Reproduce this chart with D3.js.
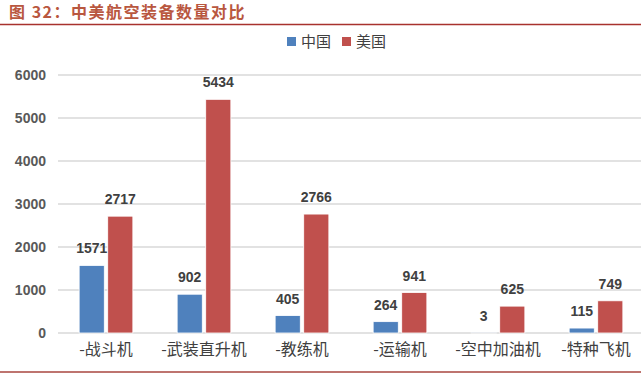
<!DOCTYPE html>
<html>
<head>
<meta charset="utf-8">
<script src="https://cdn.jsdelivr.net/npm/d3@7"></script>
<style>
  body { margin: 0; background: #fff; }
  svg { display: block; font-family: "Noto Sans CJK SC", "Noto Sans", sans-serif; }
</style>
</head>
<body>
<svg id="chart" width="641" height="374"></svg>
<script>
// data
var categories = ["-战斗机", "-武装直升机", "-教练机", "-运输机", "-空中加油机", "-特种飞机"];
var seriesNames = ["中国", "美国"];
var china = [1571, 902, 405, 264, 3, 115];
var usa = [2717, 5434, 2766, 941, 625, 749];
var yTicks = [0, 1000, 2000, 3000, 4000, 5000, 6000];
var colors = ["#4f81bd", "#c0504d"];

var svg = d3.select("#chart");

// title + rules
svg.append("text")
  .attr("x", 9).attr("y", 18)
  .attr("font-size", 16).attr("font-weight", "bold")
  .attr("letter-spacing", 1.5)
  .attr("fill", "#b9573f")
  .text("图 32：中美航空装备数量对比");
svg.append("line")
  .attr("x1", 0).attr("x2", 641).attr("y1", 24.5).attr("y2", 24.5)
  .attr("stroke", "#a8322d").attr("stroke-width", 1.5);
svg.append("line")
  .attr("x1", 0).attr("x2", 641).attr("y1", 372).attr("y2", 372)
  .attr("stroke", "#a8463f").attr("stroke-width", 1.5);

var x0 = d3.scaleBand().domain(categories).range([57, 645]);
var x1 = d3.scaleBand().domain([0, 1]).range([-28, 28]).paddingInner(0.12).paddingOuter(0.04);
var y = d3.scaleLinear().domain([0, 6000]).range([333, 75]);

// grid
svg.append("g").selectAll("line")
  .data(yTicks)
  .enter().append("line")
  .attr("x1", 58).attr("x2", 641)
  .attr("y1", function(d) { return y(d); })
  .attr("y2", function(d) { return y(d); })
  .attr("stroke", "#d9d9d9").attr("stroke-width", 1.5);

// y axis labels
var yAxis = d3.axisLeft(y).tickValues(yTicks).tickFormat(d3.format("d")).tickSize(0).tickPadding(0);
var yg = svg.append("g").attr("transform", "translate(46,0)").call(yAxis);
yg.select(".domain").remove();
yg.selectAll("text")
  .attr("font-size", 14).attr("font-weight", "bold")
  .attr("font-family", "'Liberation Sans', Arial, sans-serif")
  .attr("fill", "#595959");

// x axis labels
var xAxis = d3.axisBottom(x0).tickSize(0).tickPadding(0);
var xg = svg.append("g").attr("transform", "translate(0,344)").call(xAxis);
xg.select(".domain").remove();
xg.selectAll("text")
  .attr("font-size", 16)
  .attr("font-family", "'Noto Sans CJK SC', sans-serif")
  .attr("fill", "#404040");

// bars
var rows = categories.map(function(c, i) { return { cat: c, vals: [china[i], usa[i]] }; });
var groups = svg.append("g").selectAll("g")
  .data(rows)
  .enter().append("g")
  .attr("transform", function(d) { return "translate(" + (x0(d.cat) + x0.bandwidth() / 2) + ",0)"; });

groups.selectAll("rect")
  .data(function(d) { return d.vals; })
  .enter().append("rect")
  .attr("x", function(d, i) { return x1(i); })
  .attr("width", x1.bandwidth())
  .attr("y", function(d) { return y(d); })
  .attr("height", function(d) { return y(0) - y(d); })
  .attr("fill", function(d, i) { return colors[i]; })
  .attr("stroke", "#fff").attr("stroke-width", 0.8);

groups.selectAll("text")
  .data(function(d) { return d.vals; })
  .enter().append("text")
  .attr("x", function(d, i) { return x1(i) + x1.bandwidth() / 2; })
  .attr("y", function(d) { return y(d) - 12; })
  .attr("text-anchor", "middle")
  .attr("font-size", 14).attr("font-weight", "bold")
  .attr("font-family", "'Liberation Sans', Arial, sans-serif")
  .attr("fill", "#404040")
  .text(function(d) { return d; });

// legend
var legend = svg.append("g").attr("transform", "translate(287,38)");
var items = legend.selectAll("g")
  .data(seriesNames)
  .enter().append("g")
  .attr("transform", function(d, i) { return "translate(" + (i * 55) + ",0)"; });
items.append("rect")
  .attr("width", 9).attr("height", 9).attr("y", -1)
  .attr("fill", function(d, i) { return colors[i]; });
items.append("text")
  .attr("x", 14).attr("y", 9)
  .attr("font-size", 15)
  .attr("fill", "#404040")
  .text(function(d) { return d; });
</script>
</body>
</html>
